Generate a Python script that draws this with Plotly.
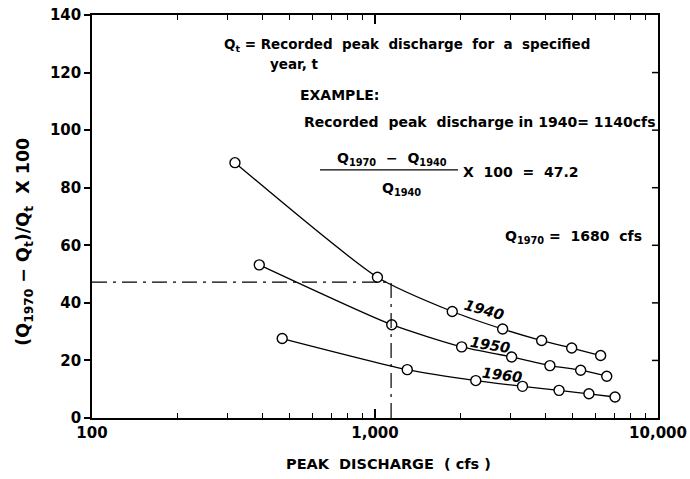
import plotly.graph_objects as go

# ---- data ----
years = ["1940", "1950", "1960"]
x_1940 = [320, 1020, 1875, 2825, 3880, 4955, 6270]
y_1940 = [88.7, 48.9, 37.0, 30.9, 26.9, 24.3, 21.7]
x_1950 = [390, 1146, 2024, 3040, 4150, 5330, 6590]
y_1950 = [53.2, 32.4, 24.7, 21.2, 18.2, 16.6, 14.5]
x_1960 = [470, 1300, 2270, 3320, 4470, 5700, 7050]
y_1960 = [27.6, 16.8, 13.0, 11.0, 9.6, 8.4, 7.3]

example_q = 1140      # recorded peak discharge in 1940 (cfs)
example_pct = 47.2    # percent change

x_ticks = [100, 1000, 10000]
x_ticktext = ["100", "1,000", "10,000"]
x_minor = [200, 300, 400, 500, 600, 700, 800, 900,
           2000, 3000, 4000, 5000, 6000, 7000, 8000, 9000]
y_ticks = [0, 20, 40, 60, 80, 100, 120, 140]

FONT = "DejaVu Sans"
fig = go.Figure()

for xs, ys in [(x_1940, y_1940), (x_1950, y_1950), (x_1960, y_1960)]:
    fig.add_trace(go.Scatter(
        x=xs, y=ys, mode="lines+markers",
        line=dict(color="black", width=1.3, shape="spline", smoothing=0.6),
        marker=dict(symbol="circle", size=10, color="white",
                    line=dict(color="black", width=1.4)),
        showlegend=False, hoverinfo="skip"))

# dashed guide lines
fig.add_shape(type="line", xref="x", yref="y", x0=100, x1=example_q,
              y0=example_pct, y1=example_pct,
              line=dict(color="black", width=1.2, dash="longdashdot"))
fig.add_shape(type="line", xref="x", yref="y", x0=example_q, x1=example_q,
              y0=0, y1=example_pct,
              line=dict(color="black", width=1.2, dash="longdashdot"))

L, R, T, B = 92, 32, 15, 60.5
PW, PH = 690 - L - R, 479 - T - B


def px(xp):
    return (xp - L) / PW


def py(yp):
    return (479 - B - yp) / PH


# inward tick marks on the right-hand frame, at the y tick values
for v in y_ticks[1:-1]:
    fig.add_shape(type="line", xref="paper", yref="y", x0=1 - 6 / PW, x1=1,
                  y0=v, y1=v, line=dict(color="black", width=1.5))


def note(text, x, y, size=14, xanchor="left", angle=0, italic=False):
    fig.add_annotation(
        text=text, xref="paper", yref="paper", x=px(x), y=py(y),
        xanchor=xanchor, yanchor="middle", showarrow=False, textangle=angle,
        font=dict(family=FONT, size=size, color="black", weight="bold",
                  style="italic" if italic else "normal"))


note("Q<sub>t</sub> = Recorded  peak  discharge  for  a  specified", 222, 45, size=13.5)
note("year, t", 268, 64, size=13.5)
note("EXAMPLE:", 298, 95, size=14)
note("Recorded  peak  discharge in 1940= 1140cfs", 302, 122, size=14)
note("Q<sub>1970</sub>  −  Q<sub>1940</sub>", 392, 159, xanchor="center", size=14)
note("Q<sub>1940</sub>", 401, 189, xanchor="center", size=14)
note("X  100  =  47.2", 461, 172, size=14)
note("Q<sub>1970</sub> =  1680  cfs", 503, 237, size=14)
fig.add_shape(type="line", xref="paper", yref="paper",
              x0=px(320), x1=px(458), y0=py(170), y1=py(170),
              line=dict(color="black", width=1.2))

note(years[0], 484, 310, size=14.5, xanchor="center", angle=16, italic=True)
note(years[1], 490, 345, size=14.5, xanchor="center", angle=9, italic=True)
note(years[2], 502, 375, size=14.5, xanchor="center", angle=7, italic=True)

# axis titles
note("PEAK  DISCHARGE  ( cfs )", 388, 465, size=14.5, xanchor="center")
fig.add_annotation(
    text="(Q<sub>1970</sub> − Q<sub>t</sub>)/Q<sub>t</sub>  X 100",
    xref="paper", yref="paper", x=px(25), y=py(242), xanchor="center",
    yanchor="middle", showarrow=False, textangle=-90,
    font=dict(family=FONT, size=17.5, color="black", weight="bold"))

tickfont = dict(family=FONT, size=15, weight="bold", color="black")
minor_ticks = dict(ticks="inside", ticklen=5, tickcolor="black", tickwidth=1.3,
                   tickmode="array", tickvals=x_minor, showgrid=False)
fig.update_layout(
    width=690, height=479,
    margin=dict(l=L, r=R, t=T, b=B, autoexpand=False),
    paper_bgcolor="white", plot_bgcolor="white",
    font=dict(family=FONT, size=15, color="black", weight="bold"),
    xaxis=dict(type="log", range=[2, 4], tickvals=x_ticks, ticktext=x_ticktext,
               ticks="inside", ticklen=9, tickwidth=1.5, tickcolor="black",
               showline=True, linecolor="black", linewidth=1.6, mirror="allticks",
               showgrid=False, zeroline=False, automargin=False,
               minor=minor_ticks, tickfont=tickfont),
    yaxis=dict(range=[0, 140], tickvals=y_ticks,
               ticks="outside", ticklen=6, tickwidth=1.5, tickcolor="black",
               showline=True, linecolor="black", linewidth=1.6, mirror=True,
               showgrid=False, zeroline=False, automargin=False,
               tickfont=tickfont),
)

fig.write_html("out.html", config={"displayModeBar": False},
               post_script="document.body.style.margin='0';"
                           "document.body.style.padding='0';")
